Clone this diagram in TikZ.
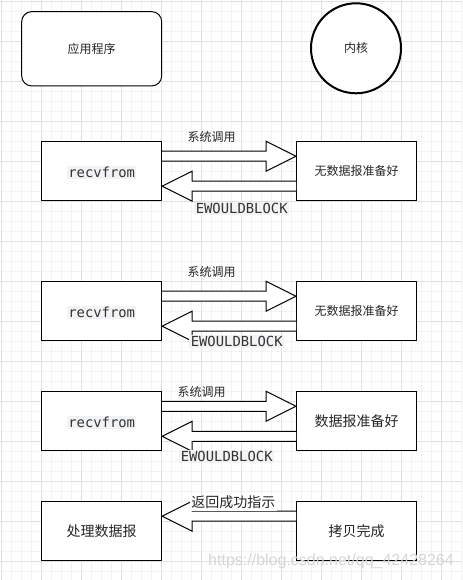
\documentclass[tikz,border=0pt]{standalone}
\usepackage{fontspec}
\setmainfont{Liberation Sans}
\setmonofont{DejaVu Sans Mono}
\newfontfamily\cjk{Noto Sans CJK SC}
\usetikzlibrary{calc}
\definecolor{gridminor}{HTML}{F3F3F3}
\definecolor{gridmajor}{HTML}{E0E0E0}
\definecolor{codebg}{HTML}{F2F3F5}
\definecolor{codefg}{HTML}{333333}
\definecolor{wmark}{HTML}{D6D6D6}
\newcommand\rblock[3]{\draw[blockarrow] ($(#1.east)+(0,#3-5)$) -- ($(#2.west)+(-30,#3-5)$) -- ($(#2.west)+(-30,#3-15)$) -- ($(#2.west)+(0,#3)$) -- ($(#2.west)+(-30,#3+15)$) -- ($(#2.west)+(-30,#3+5)$) -- ($(#1.east)+(0,#3+5)$);}
\newcommand\lblock[3]{\draw[blockarrow] ($(#2.west)+(0,#3-5)$) -- ($(#1.east)+(30,#3-5)$) -- ($(#1.east)+(30,#3-15)$) -- ($(#1.east)+(0,#3)$) -- ($(#1.east)+(30,#3+15)$) -- ($(#1.east)+(30,#3+5)$) -- ($(#2.west)+(0,#3+5)$);}
\tikzset{
  box/.style={draw=black, line width=0.75pt, fill=white, minimum width=90pt, minimum height=44.5pt, inner sep=0pt},
  cn/.style={font=\cjk\fontsize{9}{11}\selectfont, text=black!85},
  cnbig/.style={font=\cjk\fontsize{10.5}{12}\selectfont, text=black!85},
  code/.style={font=\ttfamily\fontsize{10.4}{12}\selectfont, text=codefg, fill=codebg, inner sep=1pt},
  blockarrow/.style={draw=black, line width=0.75pt, fill=white, line join=miter},
}
\begin{document}
\begin{tikzpicture}[x=0.75pt, y=-0.75pt]
\useasboundingbox (0,0) rectangle (462,580);
\fill[white] (0,0) rectangle (462,580);
% grid
\foreach \i in {0,...,46} {\draw[gridminor, line width=0.75pt] (1.7+10*\i,0) -- (1.7+10*\i,580);}
\foreach \i in {0,...,57} {\draw[gridminor, line width=0.75pt] (0,1.7+10*\i) -- (462,1.7+10*\i);}
\foreach \i in {0,...,11} {\draw[gridmajor, line width=0.75pt] (1.7+40*\i,0) -- (1.7+40*\i,580);}
\foreach \i in {0,...,14} {\draw[gridmajor, line width=0.75pt] (0,1.7+40*\i) -- (462,1.7+40*\i);}

% top legend
\node[draw=black, line width=0.75pt, fill=white, rounded corners=7.5pt, minimum width=105pt, minimum height=55.7pt, cn] (app) at (91.7,48.8) {应用程序};
\node[draw=black, line width=1.5pt, fill=white, circle, minimum size=67.5pt, inner sep=0pt, cn] (kern) at (356,48.3) {内核};

% section 1
\node[box] (l1) at (101.7,171.2) {};
\node[code] (l1t) at (101.7,172.3) {recvfrom};
\node[box, cn] (r1) at (356.5,171.2) {无数据报准备好};
\rblock{l1}{r1}{-15}
\lblock{l1}{r1}{15}
\node[cn] (c1) at (211.7,136.7) {系统调用};
\node[code] (e1) at (241.7,208.3) {EWOULDBLOCK};

% section 2
\node[box] (l2) at (101.7,311.2) {};
\node[code] (l2t) at (101.7,312.3) {recvfrom};
\node[box, cn] (r2) at (356.5,311.2) {无数据报准备好};
\rblock{l2}{r2}{-15}
\lblock{l2}{r2}{15}
\node[cn] (c2) at (211.7,271.7) {系统调用};
\node[code] (e2) at (236.7,341.7) {EWOULDBLOCK};

% section 3
\node[box] (l3) at (101.7,421.3) {};
\node[code] (l3t) at (101.7,422.3) {recvfrom};
\node[box, cnbig] (r3) at (356.5,421.3) {数据报准备好};
\rblock{l3}{r3}{-15}
\lblock{l3}{r3}{15}
\node[cn] (c3) at (201.7,391.7) {系统调用};
\node[code] (e3) at (226.7,456.7) {EWOULDBLOCK};

% section 4
\node[box, cnbig] (l4) at (101.7,531.2) {处理数据报};
\node[box, cnbig] (r4) at (356.5,531.2) {拷贝完成};
\lblock{l4}{r4}{-15}
\node[cnbig, fill=white, inner sep=1pt] (c4) at (233.3,502.7) {返回成功指示};

% watermark
\node[font=\fontsize{12}{14}\selectfont, text=wmark, inner sep=0pt] (wm) at (331,561) {https://blog.csdn.net/qq\_42428264};
\end{tikzpicture}
\end{document}
